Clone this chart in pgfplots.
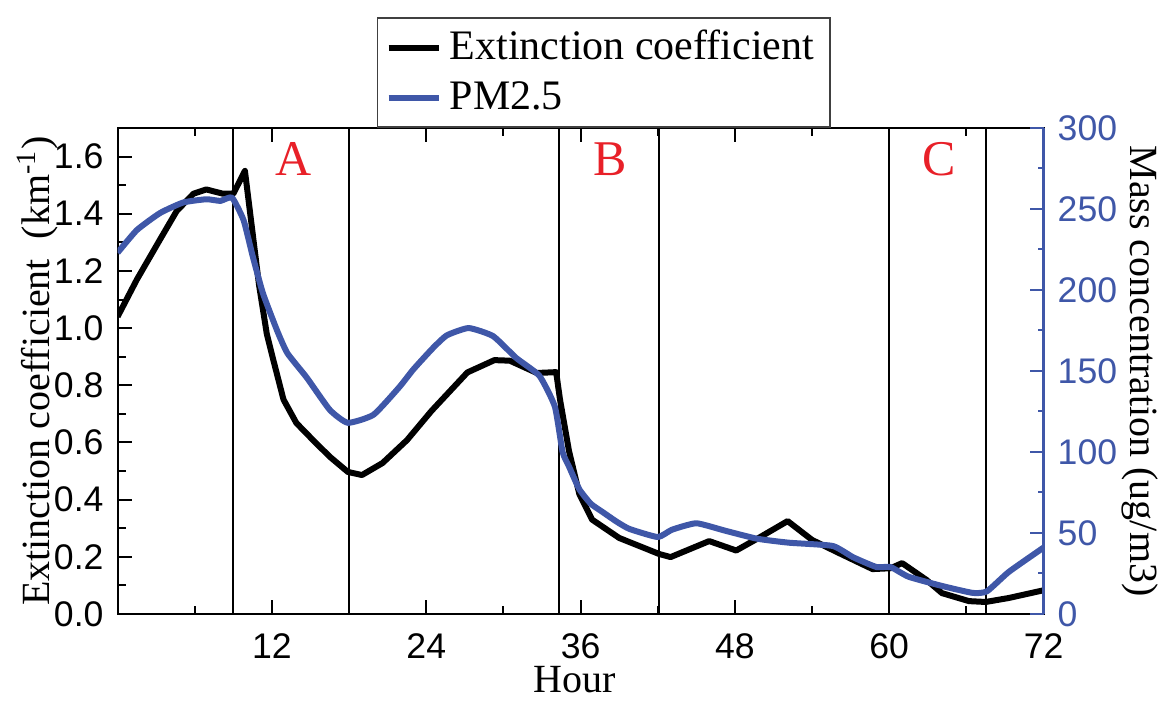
\documentclass[border=0pt]{standalone}
\usepackage{fontspec}
\setmainfont{Liberation Serif}
\newfontfamily\arial{Liberation Sans}
\usepackage{pgfplots}
\pgfplotsset{compat=1.18}
\definecolor{pmblue}{RGB}{63,87,168}
\definecolor{lettred}{RGB}{232,32,40}

\begin{document}
\begin{tikzpicture}
\path[use as bounding box] (-29.4pt,-25pt) rectangle (262.6pt,153.5pt);
% left axis: extinction coefficient
\begin{axis}[
    scale only axis, width=231.5pt, height=121.5pt,
    xmin=0, xmax=72, ymin=0, ymax=1.7,
    xtick={12,24,36,48,60,72},
    minor xtick={6,18,30,42,54,66},
    ytick={0,0.2,0.4,0.6,0.8,1.0,1.2,1.4,1.6},
    minor ytick={0.1,0.3,0.5,0.7,0.9,1.1,1.3,1.5},
    xtick pos=both, xticklabel pos=bottom, ytick pos=left,
    tick align=inside,
    major tick length=3.5pt, minor tick length=2pt,
    axis line style={line width=0.5pt},
    every tick/.style={black, line width=0.5pt},
    tick label style={font=\arial\fontsize{8.9}{10}\selectfont},
    /pgf/number format/assume math mode=true,
    y tick label style={/pgf/number format/fixed,
      /pgf/number format/fixed zerofill, /pgf/number format/precision=1},
    x tick label style={yshift=-1.4pt},
    label style={font=\fontsize{10.5}{12}\selectfont},
    xlabel={Hour},
    x label style={font=\fontsize{11.5}{13}\selectfont},
    ylabel={Extinction coefficient\ \ (km\textsuperscript{-1})},
    every axis x label/.style={at={(axis description cs:0.494,-0.135)}, anchor=center},
    every axis y label/.style={at={(axis description cs:-0.0864,0.5)}, rotate=90, anchor=center},
  ]
\addplot[black, line width=0.45pt, forget plot] coordinates {(9,0) (9,1.7)};
\addplot[black, line width=0.45pt, forget plot] coordinates {(18,0) (18,1.7)};
\addplot[black, line width=0.45pt, forget plot] coordinates {(34.3,0) (34.3,1.7)};
\addplot[black, line width=0.45pt, forget plot] coordinates {(42.1,0) (42.1,1.7)};
\addplot[black, line width=0.45pt, forget plot] coordinates {(60,0) (60,1.7)};
\addplot[black, line width=0.45pt, forget plot] coordinates {(67.5,0) (67.5,1.7)};
\addplot[black, line width=1.5pt, line join=round] coordinates {
  (0,1.04) (1.5,1.17) (3.3,1.31) (4.6,1.41) (5.9,1.47) (6.9,1.485) (8.2,1.47)
  (9.0,1.47) (9.9,1.55) (11.0,1.15) (11.6,0.98) (12.1,0.89) (12.9,0.75)
  (13.9,0.668) (15.2,0.608) (16.5,0.55) (17.9,0.497) (19.0,0.486) (20.6,0.528)
  (22.5,0.608) (24.4,0.71) (27.2,0.845) (29.3,0.888) (30.5,0.886) (32.6,0.843)
  (34.1,0.846) (34.4,0.75) (35.1,0.57) (35.9,0.42) (36.9,0.33) (39.0,0.266)
  (42.1,0.21) (43.0,0.199) (46.0,0.255) (48.1,0.222) (50.0,0.27) (52.1,0.325)
  (54.0,0.259) (56.1,0.213) (58.7,0.157) (60.1,0.16) (61.0,0.178) (62.9,0.119)
  (64.1,0.073) (66.2,0.045) (67.5,0.042) (69.3,0.056) (72,0.083)};
\node[text=lettred, font=\fontsize{12.5}{14}\selectfont] at (axis cs:13.65,1.59) {A};
\node[text=lettred, font=\fontsize{12.5}{14}\selectfont] at (axis cs:38.3,1.59) {B};
\node[text=lettred, font=\fontsize{12.5}{14}\selectfont] at (axis cs:63.9,1.59) {C};
\end{axis}
% right axis: PM2.5 mass concentration
\begin{axis}[
    scale only axis, width=231.5pt, height=121.5pt,
    xmin=0, xmax=72, ymin=0, ymax=300,
    axis x line=none, axis y line*=right,
    ytick={0,50,100,150,200,250,300},
    minor ytick={25,75,125,175,225,275},
    tick align=inside,
    major tick length=3.5pt, minor tick length=1.5pt,
    axis line style={pmblue, line width=0.6pt},
    every tick/.style={pmblue, line width=0.5pt},
    tick label style={font=\arial\fontsize{8.9}{10}\selectfont, text=pmblue},
    /pgf/number format/assume math mode=true,
    label style={font=\fontsize{10.5}{12}\selectfont, text=pmblue},
    ylabel={Mass concentration (ug/m3)},
    every axis y label/.style={at={(axis description cs:1.1037,0.5)}, rotate=-90, anchor=center},
    legend style={at={(0.28,1)}, anchor=south west, draw=black!75, line width=0.4pt,
      font=\fontsize{10.5}{12}\selectfont, inner xsep=2pt, inner ysep=1pt,
      cells={anchor=west}},
    legend image code/.code={\draw[#1] (0pt,0pt) -- (12.5pt,0pt);},
  ]
\addlegendimage{black, line width=1.5pt}
\addlegendentry{Extinction coefficient}
\addplot[pmblue, line width=1.5pt, line join=round, smooth, tension=0.3] coordinates {
  (0,223) (1.5,237) (3.3,247.5) (5.1,254) (6.9,256) (8.0,255) (8.9,257)
  (9.8,243) (10.5,221) (11.3,198) (12.4,175) (13.2,161) (14.7,146) (16.5,126)
  (17.9,118) (19.9,123) (21.9,140) (23.0,151) (24.5,164) (25.6,172) (27.3,176.5)
  (29.2,171.5) (31.0,158) (32.8,147) (34.0,128) (34.6,100) (35.1,91) (35.9,77)
  (36.8,68) (37.7,63) (38.8,57) (39.8,52.5) (42.0,47.5) (43.1,52) (45.0,56)
  (47.2,51.5) (49.7,46.5) (52.2,44) (55.6,42) (57.2,35) (59.0,29) (60.1,29)
  (61.5,23) (64.1,17.3) (66.5,13) (67.6,14) (69.3,26) (72,41)};
\addlegendentry{PM2.5}
\end{axis}
\end{tikzpicture}
\end{document}
